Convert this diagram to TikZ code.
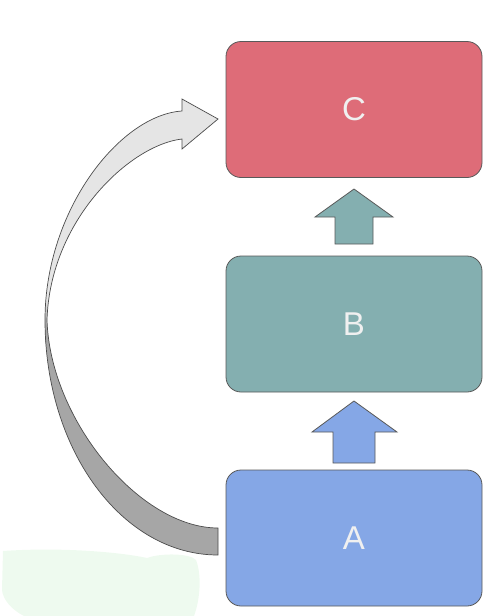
\documentclass[tikz,border=0pt]{standalone}
\usepackage{fontspec}
\setmainfont{Liberation Sans}
\begin{document}
\pgfdeclareverticalshading{arrowshade}{100bp}{color(0bp)=(black!35); color(50bp)=(black!35); color(53bp)=(black!10); color(100bp)=(black!10)}
\begin{tikzpicture}[x=1pt,y=-1pt,
  box/.style={draw=black!65,line width=0.8pt,rounded corners=15pt,minimum width=256pt,minimum height=136pt,inner sep=0pt,font=\fontsize{33}{33}\selectfont,text=white!94!black},
  uparrow/.style={draw=black!65,line width=0.8pt,line join=miter}]
\useasboundingbox (0,0) rectangle (495,616);
\definecolor{cRed}{HTML}{DE6C78}
\definecolor{cTeal}{HTML}{84AFB0}
\definecolor{cBlue}{HTML}{85A7E6}
\definecolor{cBlob}{HTML}{EEFAEF}
% light green blob
\fill[cBlob] (3,551) .. controls (60,547) and (120,552) .. (147,558)
  .. controls (160,553) and (190,553) .. (196,560)
  .. controls (202,575) and (200,600) .. (194,616)
  -- (24,616) .. controls (12,610) and (3,600) .. (2,590) -- cycle;
\node[box,fill=cRed] (C) at (354,109.5) {C};
\node[box,fill=cTeal] (B) at (354,324) {B};
\node[box,fill=cBlue] (A) at (354,538) {A};
% straight up arrows
\draw[uparrow,fill=cTeal] (335,244) -- (335,217) -- (315,217) -- (354,189) -- (393,217) -- (373,217) -- (373,244) -- cycle;
\draw[uparrow,fill=cBlue] (333,463) -- (333,432) -- (312,432) -- (354,401) -- (397,432) -- (375,432) -- (375,463) -- cycle;
% curved arrow from A to C
\coordinate (tailB) at (218,555);
\coordinate (tailT) at (218,528);
\draw[draw=black!70,line width=0.7pt,line join=miter,shading=arrowshade]
  (tailB) .. controls (122,555) and (45,450) .. (45,320)
  .. controls (45,210) and (120,115) .. (182,111)
  -- (182,99) -- (218,119) -- (182,149) -- (182,139)
  .. controls (130,145) and (50,220) .. (47,320)
  .. controls (50,420) and (140,528) .. (tailT) -- cycle;
\end{tikzpicture}
\end{document}
